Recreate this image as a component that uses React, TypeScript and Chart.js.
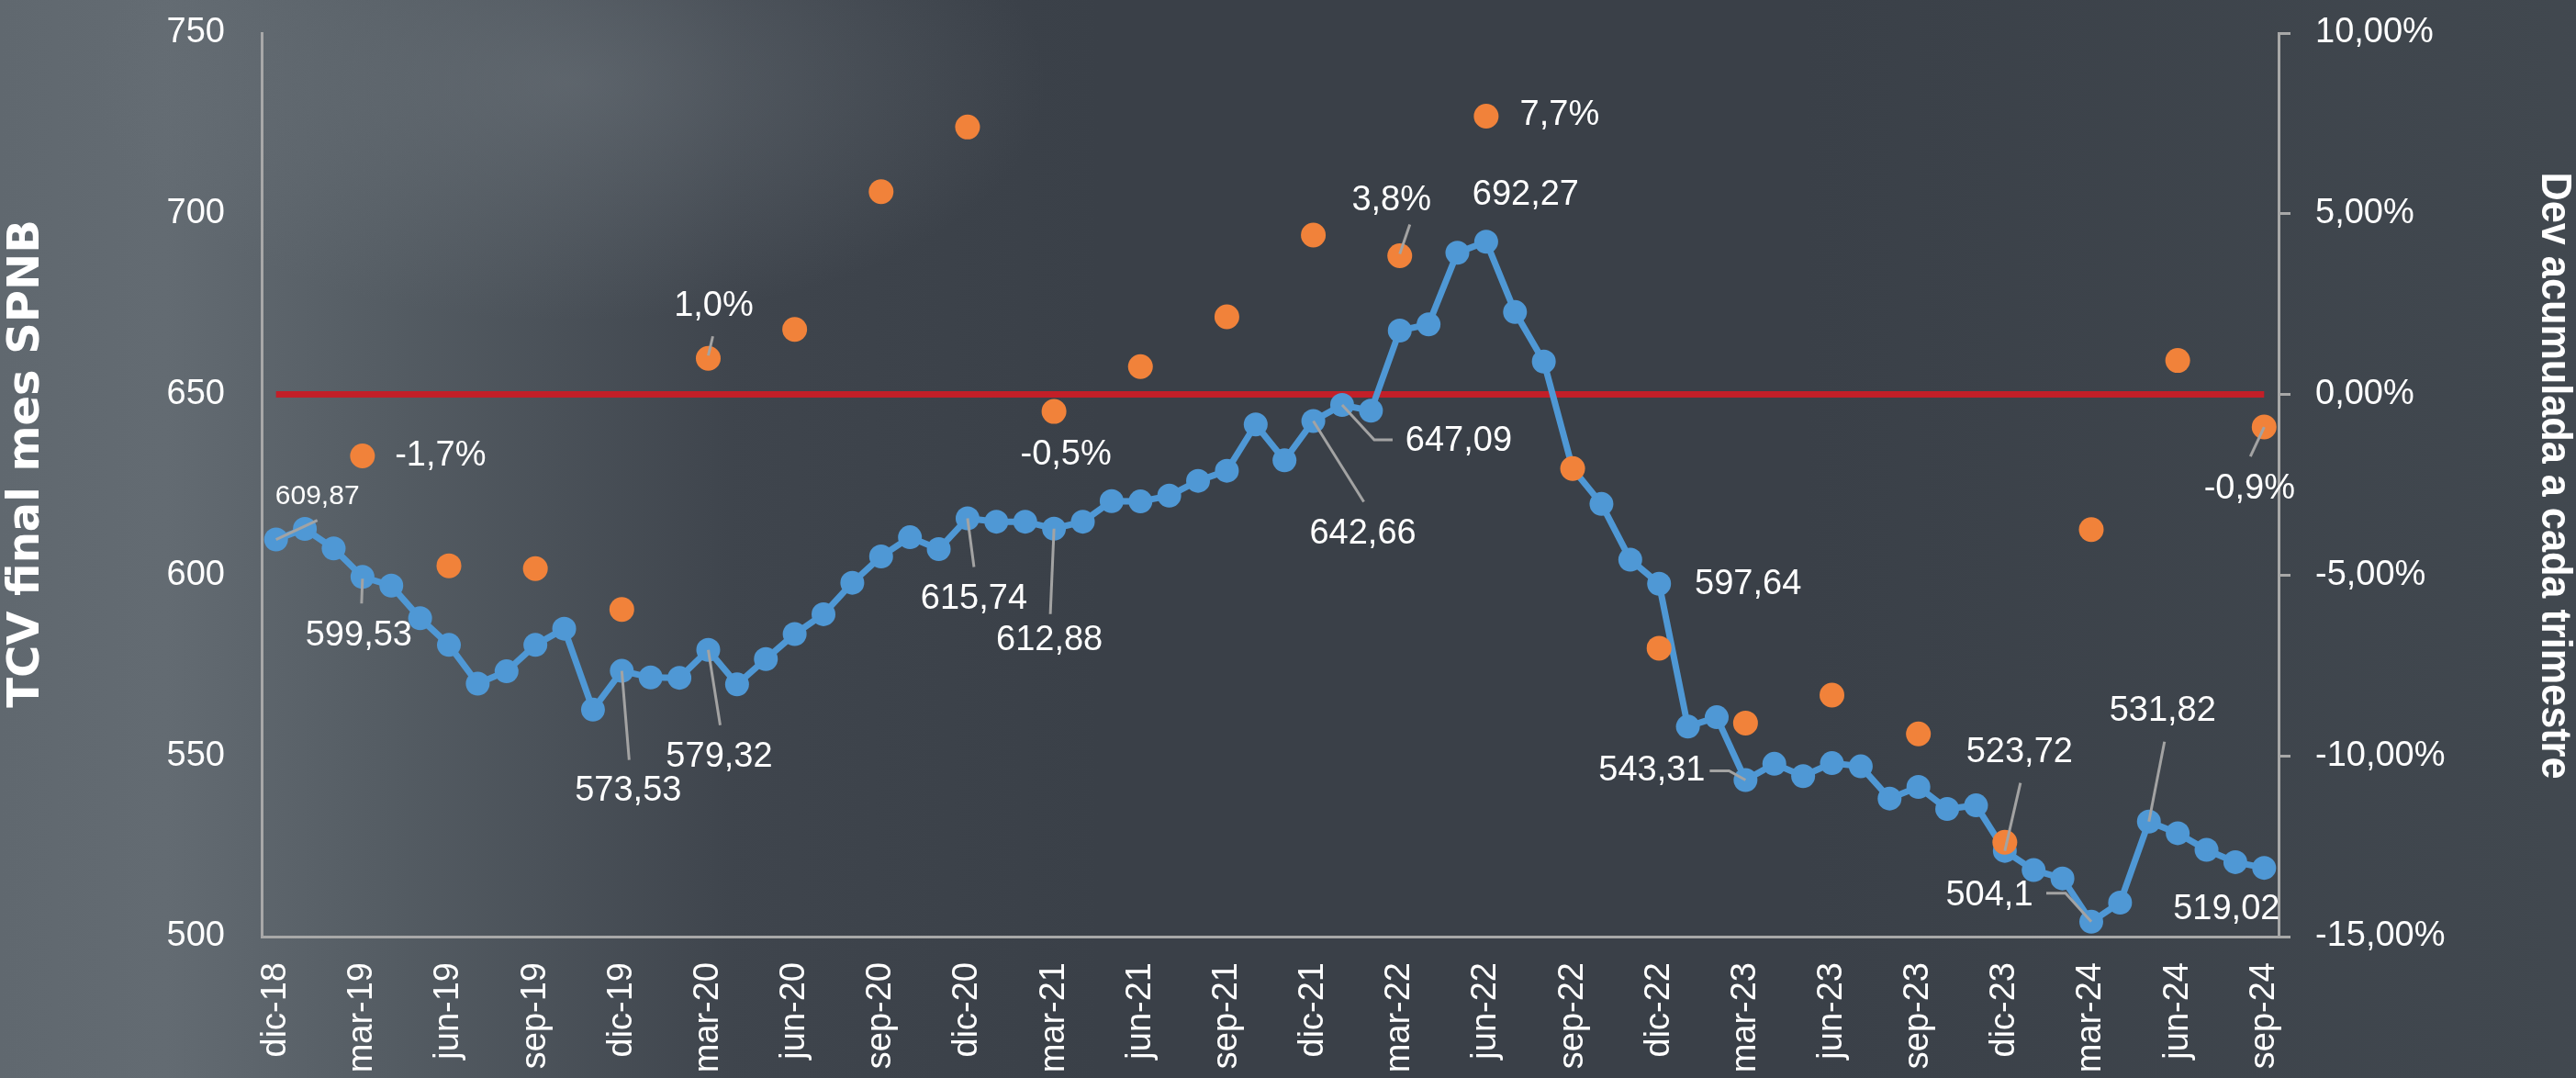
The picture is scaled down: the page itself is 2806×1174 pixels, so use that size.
import React, { useEffect, useRef } from 'react';
import { Chart, registerables } from 'chart.js';

Chart.register(...registerables);

// ---------- DATA ----------
const categories = [
  'dic-18',
  'ene-19', 'feb-19', 'mar-19', 'abr-19', 'may-19', 'jun-19', 'jul-19', 'ago-19', 'sep-19', 'oct-19', 'nov-19', 'dic-19',
  'ene-20', 'feb-20', 'mar-20', 'abr-20', 'may-20', 'jun-20', 'jul-20', 'ago-20', 'sep-20', 'oct-20', 'nov-20', 'dic-20',
  'ene-21', 'feb-21', 'mar-21', 'abr-21', 'may-21', 'jun-21', 'jul-21', 'ago-21', 'sep-21', 'oct-21', 'nov-21', 'dic-21',
  'ene-22', 'feb-22', 'mar-22', 'abr-22', 'may-22', 'jun-22', 'jul-22', 'ago-22', 'sep-22', 'oct-22', 'nov-22', 'dic-22',
  'ene-23', 'feb-23', 'mar-23', 'abr-23', 'may-23', 'jun-23', 'jul-23', 'ago-23', 'sep-23', 'oct-23', 'nov-23', 'dic-23',
  'ene-24', 'feb-24', 'mar-24', 'abr-24', 'may-24', 'jun-24', 'jul-24', 'ago-24', 'sep-24',
];

// TCV final mes SPNB (monthly)
const tcvValues = [
  609.87,
  612.8, 607.4, 599.53, 597.1, 588.1, 580.7, 570.0, 573.4, 580.7, 585.2, 562.8, 573.53,
  571.7, 571.6, 579.32, 569.8, 576.8, 583.7, 589.2, 597.9, 605.2, 610.5, 607.2, 615.74,
  614.8, 614.8, 612.88, 614.8, 620.5, 620.4, 622.0, 626.1, 628.9, 641.7, 631.8, 642.66,
  647.09, 645.5, 667.7, 669.4, 689.2, 692.27, 672.8, 659.1, 629.5, 619.7, 604.3, 597.64,
  558.1, 560.7, 543.31, 547.8, 544.4, 548.0, 547.1, 538.2, 541.4, 535.3, 536.3, 523.72,
  518.4, 516.1, 504.1, 509.4, 531.82, 528.6, 524.0, 520.6, 519.02,
];

// Dev acumulada a cada trimestre (quarter ends)
const devMonths = [
  'mar-19', 'jun-19', 'sep-19', 'dic-19',
  'mar-20', 'jun-20', 'sep-20', 'dic-20',
  'mar-21', 'jun-21', 'sep-21', 'dic-21',
  'mar-22', 'jun-22', 'sep-22', 'dic-22',
  'mar-23', 'jun-23', 'sep-23', 'dic-23',
  'mar-24', 'jun-24', 'sep-24',
];
const devValues = [
  -0.017, -0.0474, -0.0482, -0.0595,
  0.010, 0.018, 0.0561, 0.0740,
  -0.0047, 0.0077, 0.0215, 0.0441,
  0.0384, 0.077, -0.0205, -0.0702,
  -0.0909, -0.0832, -0.0939, -0.1239,
  -0.0374, 0.0094, -0.009,
];

const referenceLevel = 650;

const leftMin = 500;
const leftMax = 750;
const leftStep = 50;
const rightMin = -0.15;
const rightMax = 0.10;
const rightStep = 0.05;

const leftTitle = 'TCV final mes SPNB';
const rightTitle = 'Dev acumulada a cada trimestre';

// ---------- LABEL PLACEMENT (styling, px offsets from the mark) ----------
type LabelSpec = { month: string; dx: number; dy: number; size?: number; leader?: number[][] };

const tcvLabelSpecs: LabelSpec[] = [
  { month: 'dic-18', dx: 45, dy: -47, size: 30, leader: [[0, 0], [45, -21]] },
  { month: 'mar-19', dx: -4, dy: 64, leader: [[0, 2], [-1, 29]] },
  { month: 'dic-19', dx: 7, dy: 131, leader: [[0, 0], [8, 97]] },
  { month: 'mar-20', dx: 12, dy: 117, leader: [[0, 0], [13, 82]] },
  { month: 'dic-20', dx: 7, dy: 88, leader: [[0, 0], [7, 53]] },
  { month: 'mar-21', dx: -5, dy: 122, leader: [[0, 0], [-4, 93]] },
  { month: 'dic-21', dx: 54, dy: 123, leader: [[0, 0], [55, 88]] },
  { month: 'ene-22', dx: 127, dy: 39, leader: [[0, 0], [35, 38], [55, 38]] },
  { month: 'jun-22', dx: 43, dy: -51 },
  { month: 'dic-22', dx: 97, dy: 1 },
  { month: 'mar-23', dx: -102, dy: -10, leader: [[0, 0], [-18, -10], [-39, -10]] },
  { month: 'dic-23', dx: 16, dy: -107, leader: [[0, 0], [17, -74]] },
  { month: 'mar-24', dx: -111, dy: -28, leader: [[0, 0], [-28, -31], [-49, -31]] },
  { month: 'may-24', dx: 15, dy: -120, leader: [[0, 0], [17, -87]] },
  { month: 'sep-24', dx: -41, dy: 45 },
];

const devLabelSpecs: LabelSpec[] = [
  { month: 'mar-19', dx: 85, dy: 0 },
  { month: 'mar-20', dx: 6, dy: -57, leader: [[0, -3], [5, -24]] },
  { month: 'mar-21', dx: 13, dy: 47 },
  { month: 'mar-22', dx: -9, dy: -60, leader: [[0, -2], [11, -34]] },
  { month: 'jun-22', dx: 80, dy: -1 },
  { month: 'sep-24', dx: -16, dy: 67, leader: [[0, 0], [-15, 32]] },
];

// ---------- STYLE ----------
const W = 2806;
const H = 1174;
const SANS = "'Liberation Sans', Arial, sans-serif";
const BLUE = '#4f98d5';
const ORANGE = '#f1823a';
const RED = '#c21f28';
const AXIS = '#a8a8a8';
const LEADER = '#a3a3a3';

const fmtTcv = (v: number) => String(v).replace('.', ',');
const fmtDev = (v: number) => (v * 100).toFixed(1).replace('.', ',') + '%';
const fmtPct = (v: number) => (v * 100).toFixed(2).replace('.', ',') + '%';

const labelsPlugin = {
  id: 'customLabels',
  afterDatasetsDraw(chart: any) {
    const ctx = chart.ctx;
    const drawSet = (dsIndex: number, specs: LabelSpec[], fmt: (v: number) => string) => {
      const meta = chart.getDatasetMeta(dsIndex);
      const data = chart.data.datasets[dsIndex].data;
      specs.forEach((s) => {
        const i = categories.indexOf(s.month);
        const el = meta.data[i];
        const v = data[i];
        if (!el || v == null) return;
        const { x, y } = el;
        if (s.leader) {
          ctx.save();
          ctx.strokeStyle = LEADER;
          ctx.lineWidth = 3;
          ctx.beginPath();
          s.leader.forEach(([lx, ly], k) => {
            if (k === 0) ctx.moveTo(x + lx, y + ly);
            else ctx.lineTo(x + lx, y + ly);
          });
          ctx.stroke();
          ctx.restore();
        }
        ctx.save();
        ctx.fillStyle = '#ffffff';
        ctx.font = `${s.size || 38}px ${SANS}`;
        ctx.textAlign = 'center';
        ctx.textBaseline = 'middle';
        ctx.fillText(fmt(v), x + s.dx, y + s.dy);
        ctx.restore();
      });
    };
    drawSet(0, tcvLabelSpecs, fmtTcv);
    drawSet(1, devLabelSpecs, fmtDev);
  },
  afterDraw(chart: any) {
    const ctx = chart.ctx;
    ctx.save();
    ctx.fillStyle = '#ffffff';
    ctx.textAlign = 'center';
    ctx.textBaseline = 'middle';
    ctx.font = "bold 48px 'DejaVu Sans', sans-serif";
    ctx.translate(30, 505);
    ctx.rotate(-Math.PI / 2);
    ctx.fillText(leftTitle, 0, 0);
    ctx.restore();

    ctx.save();
    ctx.fillStyle = '#ffffff';
    ctx.textAlign = 'center';
    ctx.textBaseline = 'middle';
    ctx.font = `bold 46px ${SANS}`;
    ctx.translate(2782, 518);
    ctx.rotate(Math.PI / 2);
    ctx.scale(0.94, 1);
    ctx.fillText(rightTitle, 0, 0);
    ctx.restore();
  },
};

export default function App() {
  const canvasRef = useRef<HTMLCanvasElement | null>(null);

  useEffect(() => {
    if (!canvasRef.current) return;
    const devSeries = categories.map((m) => {
      const k = devMonths.indexOf(m);
      return k >= 0 ? devValues[k] : null;
    });
    const refSeries = categories.map(() => referenceLevel);

    const tickFont = { family: SANS, size: 38 };

    const chart = new Chart(canvasRef.current, {
      type: 'line',
      data: {
        labels: categories,
        datasets: [
          {
            label: leftTitle,
            data: tcvValues,
            yAxisID: 'y',
            borderColor: BLUE,
            backgroundColor: BLUE,
            borderWidth: 7,
            pointRadius: 13,
            pointHoverRadius: 13,
            pointBorderWidth: 0,
            pointBackgroundColor: BLUE,
            tension: 0,
            order: 1,
          },
          {
            label: rightTitle,
            data: devSeries,
            yAxisID: 'y1',
            showLine: false,
            borderColor: ORANGE,
            backgroundColor: ORANGE,
            pointRadius: 13.5,
            pointHoverRadius: 13.5,
            pointBorderWidth: 0,
            pointBackgroundColor: ORANGE,
            order: 0,
          },
          {
            label: 'Referencia',
            data: refSeries,
            yAxisID: 'y',
            borderColor: RED,
            borderWidth: 7,
            pointRadius: 0,
            pointHoverRadius: 0,
            order: 2,
          },
        ],
      },
      options: {
        responsive: false,
        animation: false,
        devicePixelRatio: 1,
        events: [],
        layout: { padding: { top: 36, left: 0, right: 0, bottom: 0 } },
        plugins: {
          legend: { display: false },
          tooltip: { enabled: false },
        },
        scales: {
          x: {
            type: 'category',
            offset: true,
            grid: { display: false, drawTicks: false, offset: true },
            border: { display: true, color: AXIS, width: 3 },
            ticks: {
              autoSkip: false,
              minRotation: 90,
              maxRotation: 90,
              padding: 28,
              color: '#ffffff',
              font: tickFont,
              callback: (_v: any, i: number) => (i % 3 === 0 ? categories[i] : ''),
            },
            afterFit: (s: any) => {
              s.height = H - 1020;
            },
          },
          y: {
            type: 'linear',
            position: 'left',
            min: leftMin,
            max: leftMax,
            grid: { display: false, drawTicks: false },
            border: { display: true, color: AXIS, width: 3 },
            ticks: {
              stepSize: leftStep,
              padding: 40,
              color: '#ffffff',
              font: tickFont,
              callback: (v: any) => String(v),
            },
            afterFit: (s: any) => {
              s.width = 285;
              s.paddingTop = 0;
              s.paddingBottom = 0;
            },
          },
          y1: {
            type: 'linear',
            position: 'right',
            min: rightMin,
            max: rightMax,
            grid: { drawOnChartArea: false, drawTicks: true, tickLength: 13, color: AXIS, lineWidth: 3 },
            border: { display: true, color: AXIS, width: 3 },
            ticks: {
              stepSize: rightStep,
              padding: 27,
              color: '#ffffff',
              font: tickFont,
              callback: (v: any) => fmtPct(Number(v)),
            },
            afterFit: (s: any) => {
              s.width = W - 2482;
              s.paddingTop = 0;
              s.paddingBottom = 0;
            },
          },
        },
      },
      plugins: [labelsPlugin],
    } as any);

    return () => chart.destroy();
  }, []);

  const background = [
    'radial-gradient(ellipse 520px 260px at 620px 90px, rgba(118,126,133,0.45), rgba(118,126,133,0) 100%)',
    'linear-gradient(90deg, rgba(96,104,111,1) 0px, rgba(99,107,114,1) 180px, rgba(86,94,101,0.95) 420px, rgba(66,72,80,0.6) 800px, rgba(58,64,72,0) 1200px)',
    'linear-gradient(90deg, rgba(60,66,74,0) 70%, rgba(66,73,80,0.9) 100%)',
    '#3a4048',
  ].join(', ');

  return (
    <div
      style={{
        position: 'fixed',
        left: 0,
        top: 0,
        width: W,
        height: H,
        overflow: 'hidden',
        background,
      }}
    >
      <canvas ref={canvasRef} width={W} height={H} style={{ display: 'block' }} />
    </div>
  );
}
